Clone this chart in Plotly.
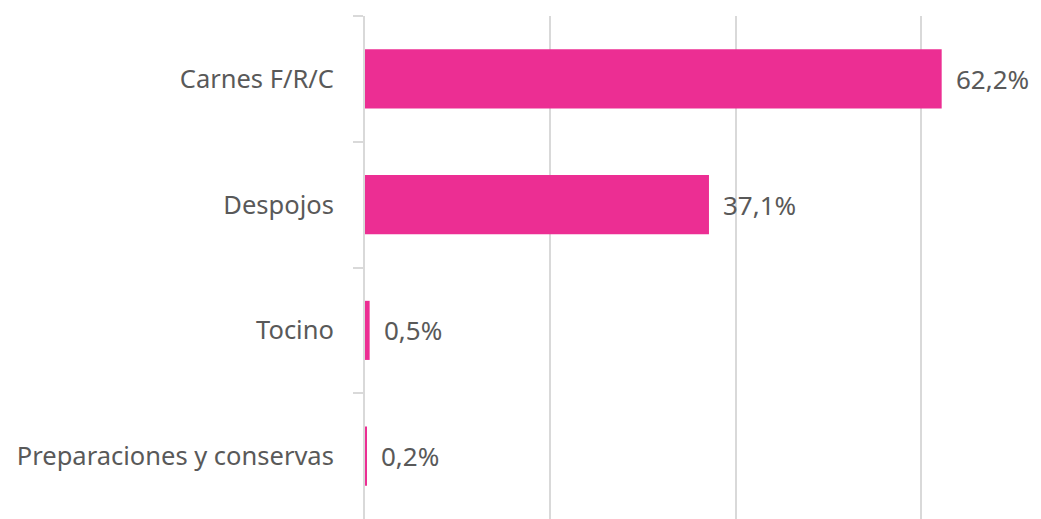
import plotly.graph_objects as go

categories = ["Carnes F/R/C", "Despojos", "Tocino", "Preparaciones y conservas"]
values = [0.622, 0.371, 0.005, 0.002]
labels = ["62,2%", "37,1%", "0,5%", "0,2%"]

BAR = "#EC2E93"
TXT = "#595959"
GRID = "#D9D9D9"
FONT = "Noto Sans"

fig = go.Figure()
fig.add_trace(go.Bar(
    y=categories, x=values, orientation="h",
    marker=dict(color=BAR, line=dict(width=0)),
    width=0.47, hoverinfo="skip",
))
for c, v, t in zip(categories, values, labels):
    fig.add_annotation(x=v, y=c, text=t, showarrow=False, xanchor="left",
                       xshift=12, font=dict(family=FONT, size=26, color=TXT))

fig.update_layout(
    width=1033, height=511,
    margin=dict(l=357, r=27, t=8, b=0),
    paper_bgcolor="white", plot_bgcolor="white",
    showlegend=False,
    xaxis=dict(range=[0, 0.7], dtick=0.2, tick0=0, showticklabels=False,
               showgrid=True, gridcolor=GRID, gridwidth=2, zeroline=False,
               showline=False, ticks="", fixedrange=True),
    yaxis=dict(autorange="reversed", showline=True, linecolor=GRID, linewidth=2,
               ticks="outside", tickson="boundaries", ticklen=10, tickcolor=GRID,
               tickwidth=2, showgrid=False, ticklabelstandoff=24,
               tickfont=dict(family=FONT, size=25.5, color=TXT)),
)
fig.write_html("out.html")
